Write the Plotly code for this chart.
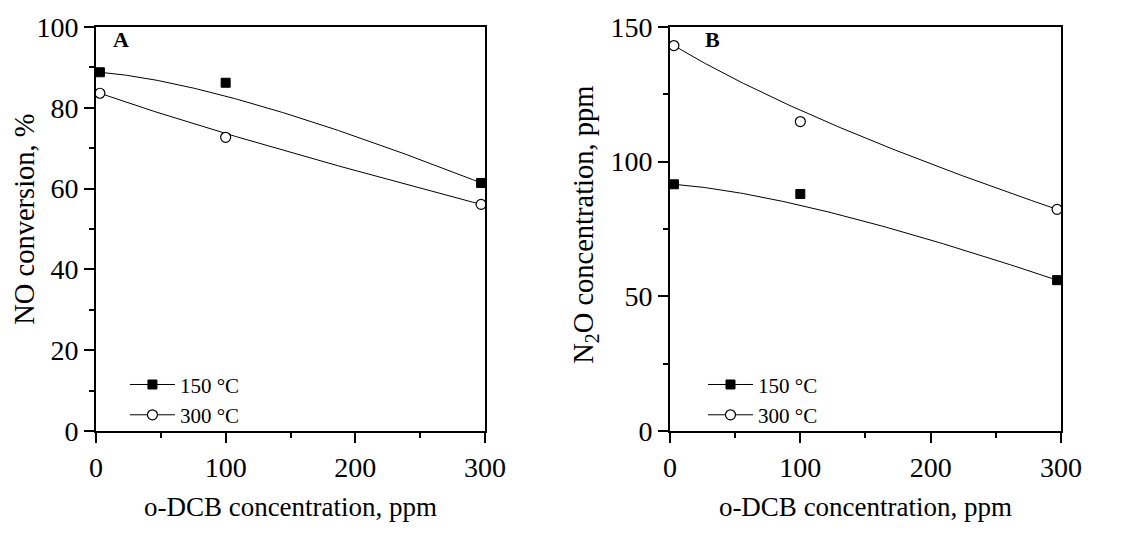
import numpy as np
import plotly.graph_objects as go

# ---- data ----
x_dcb = [3, 100, 297]
no_conv_150 = [88.8, 86.2, 61.4]
no_conv_300 = [83.6, 72.7, 56.1]
n2o_150 = [91.6, 88.0, 56.0]
n2o_300 = [143.1, 114.9, 82.3]
series_names = ["150 °C", "300 °C"]
x_ticks = [0, 100, 200, 300]


def bspline(xs, ys, n=120):
    """Quadratic B-spline (Bezier) through the three control points."""
    t = np.linspace(0, 1, n)
    p0x, p1x, p2x = xs
    p0y, p1y, p2y = ys
    bx = (1 - t) ** 2 * p0x + 2 * t * (1 - t) * p1x + t ** 2 * p2x
    by = (1 - t) ** 2 * p0y + 2 * t * (1 - t) * p1y + t ** 2 * p2y
    return bx, by


FONT = "Liberation Serif"
sq = dict(symbol="square", size=9, color="black", line=dict(color="black", width=1))
ci = dict(symbol="circle", size=10, color="white", line=dict(color="black", width=1.2))

fig = go.Figure()


def add_panel(xa, ya, legend, s150, s300):
    for vals, mk, name in [(s150, sq, series_names[0]), (s300, ci, series_names[1])]:
        bx, by = bspline(x_dcb, vals)
        fig.add_trace(go.Scatter(x=bx, y=by, mode="lines", line=dict(color="black", width=1),
                                 xaxis=xa, yaxis=ya, showlegend=False, hoverinfo="skip"))
        fig.add_trace(go.Scatter(x=x_dcb, y=vals, mode="markers", marker=mk, cliponaxis=False,
                                 xaxis=xa, yaxis=ya, showlegend=False))
        fig.add_trace(go.Scatter(x=[None], y=[None], mode="lines+markers", marker=mk,
                                 line=dict(color="black", width=1), name=name,
                                 xaxis=xa, yaxis=ya, legend=legend, showlegend=True))


add_panel("x", "y", "legend", no_conv_150, no_conv_300)
add_panel("x2", "y2", "legend2", n2o_150, n2o_300)

ax_common = dict(showline=True, linewidth=2, linecolor="black", mirror=True,
                 ticks="outside", ticklen=10, tickwidth=2, tickcolor="black",
                 showgrid=False, zeroline=False,
                 tickfont=dict(family=FONT, size=28, color="black"))

xa = dict(ax_common, range=[0, 300], tickvals=x_ticks,
          minor=dict(ticks="outside", ticklen=5, tickwidth=2, tickcolor="black", dtick=50, tick0=0),
          title=dict(text="o-DCB concentration, ppm", font=dict(family=FONT, size=27, color="black"),
                     standoff=16))

ytitle_font = dict(family=FONT, size=28.5, color="black")

fig.update_layout(
    width=1121, height=537,
    margin=dict(l=96, r=60, t=25, b=106),
    paper_bgcolor="white", plot_bgcolor="white",
    xaxis=dict(xa, domain=[0, 0.4031], anchor="y"),
    xaxis2=dict(xa, domain=[0.5948, 1], anchor="y2"),
    yaxis=dict(ax_common, range=[0, 100], dtick=20, anchor="x",
               minor=dict(ticks="outside", ticklen=5, tickwidth=2, tickcolor="black", dtick=10, tick0=0)),
    yaxis2=dict(ax_common, range=[0, 150], dtick=50, anchor="x2",
                minor=dict(ticks="outside", ticklen=5, tickwidth=2, tickcolor="black", dtick=25, tick0=0)),
    legend=dict(x=0.030, y=0.165, xanchor="left", yanchor="top", bgcolor="rgba(0,0,0,0)",
                font=dict(family=FONT, size=21, color="black"), itemwidth=45),
    legend2=dict(x=0.629, y=0.165, xanchor="left", yanchor="top", bgcolor="rgba(0,0,0,0)",
                 font=dict(family=FONT, size=21, color="black"), itemwidth=45),
    annotations=[
        dict(text="<b>A</b>", x=0.038, y=0.97, xref="x domain", yref="y domain", showarrow=False,
             xanchor="left", yanchor="middle", font=dict(family=FONT, size=22, color="black")),
        dict(text="<b>B</b>", x=0.085, y=0.97, xref="x2 domain", yref="y2 domain", showarrow=False,
             xanchor="left", yanchor="middle", font=dict(family=FONT, size=22, color="black")),
        dict(text="NO conversion, %", textangle=-90, x=-0.183, y=0.525,
             xref="x domain", yref="y domain", showarrow=False,
             xanchor="center", yanchor="middle", font=ytitle_font),
        dict(text="N<sub>2</sub>O concentration, ppm", textangle=-90, x=-0.215, y=0.51,
             xref="x2 domain", yref="y2 domain", showarrow=False,
             xanchor="center", yanchor="middle", font=ytitle_font),
    ],
)

fig.write_html("out.html")
